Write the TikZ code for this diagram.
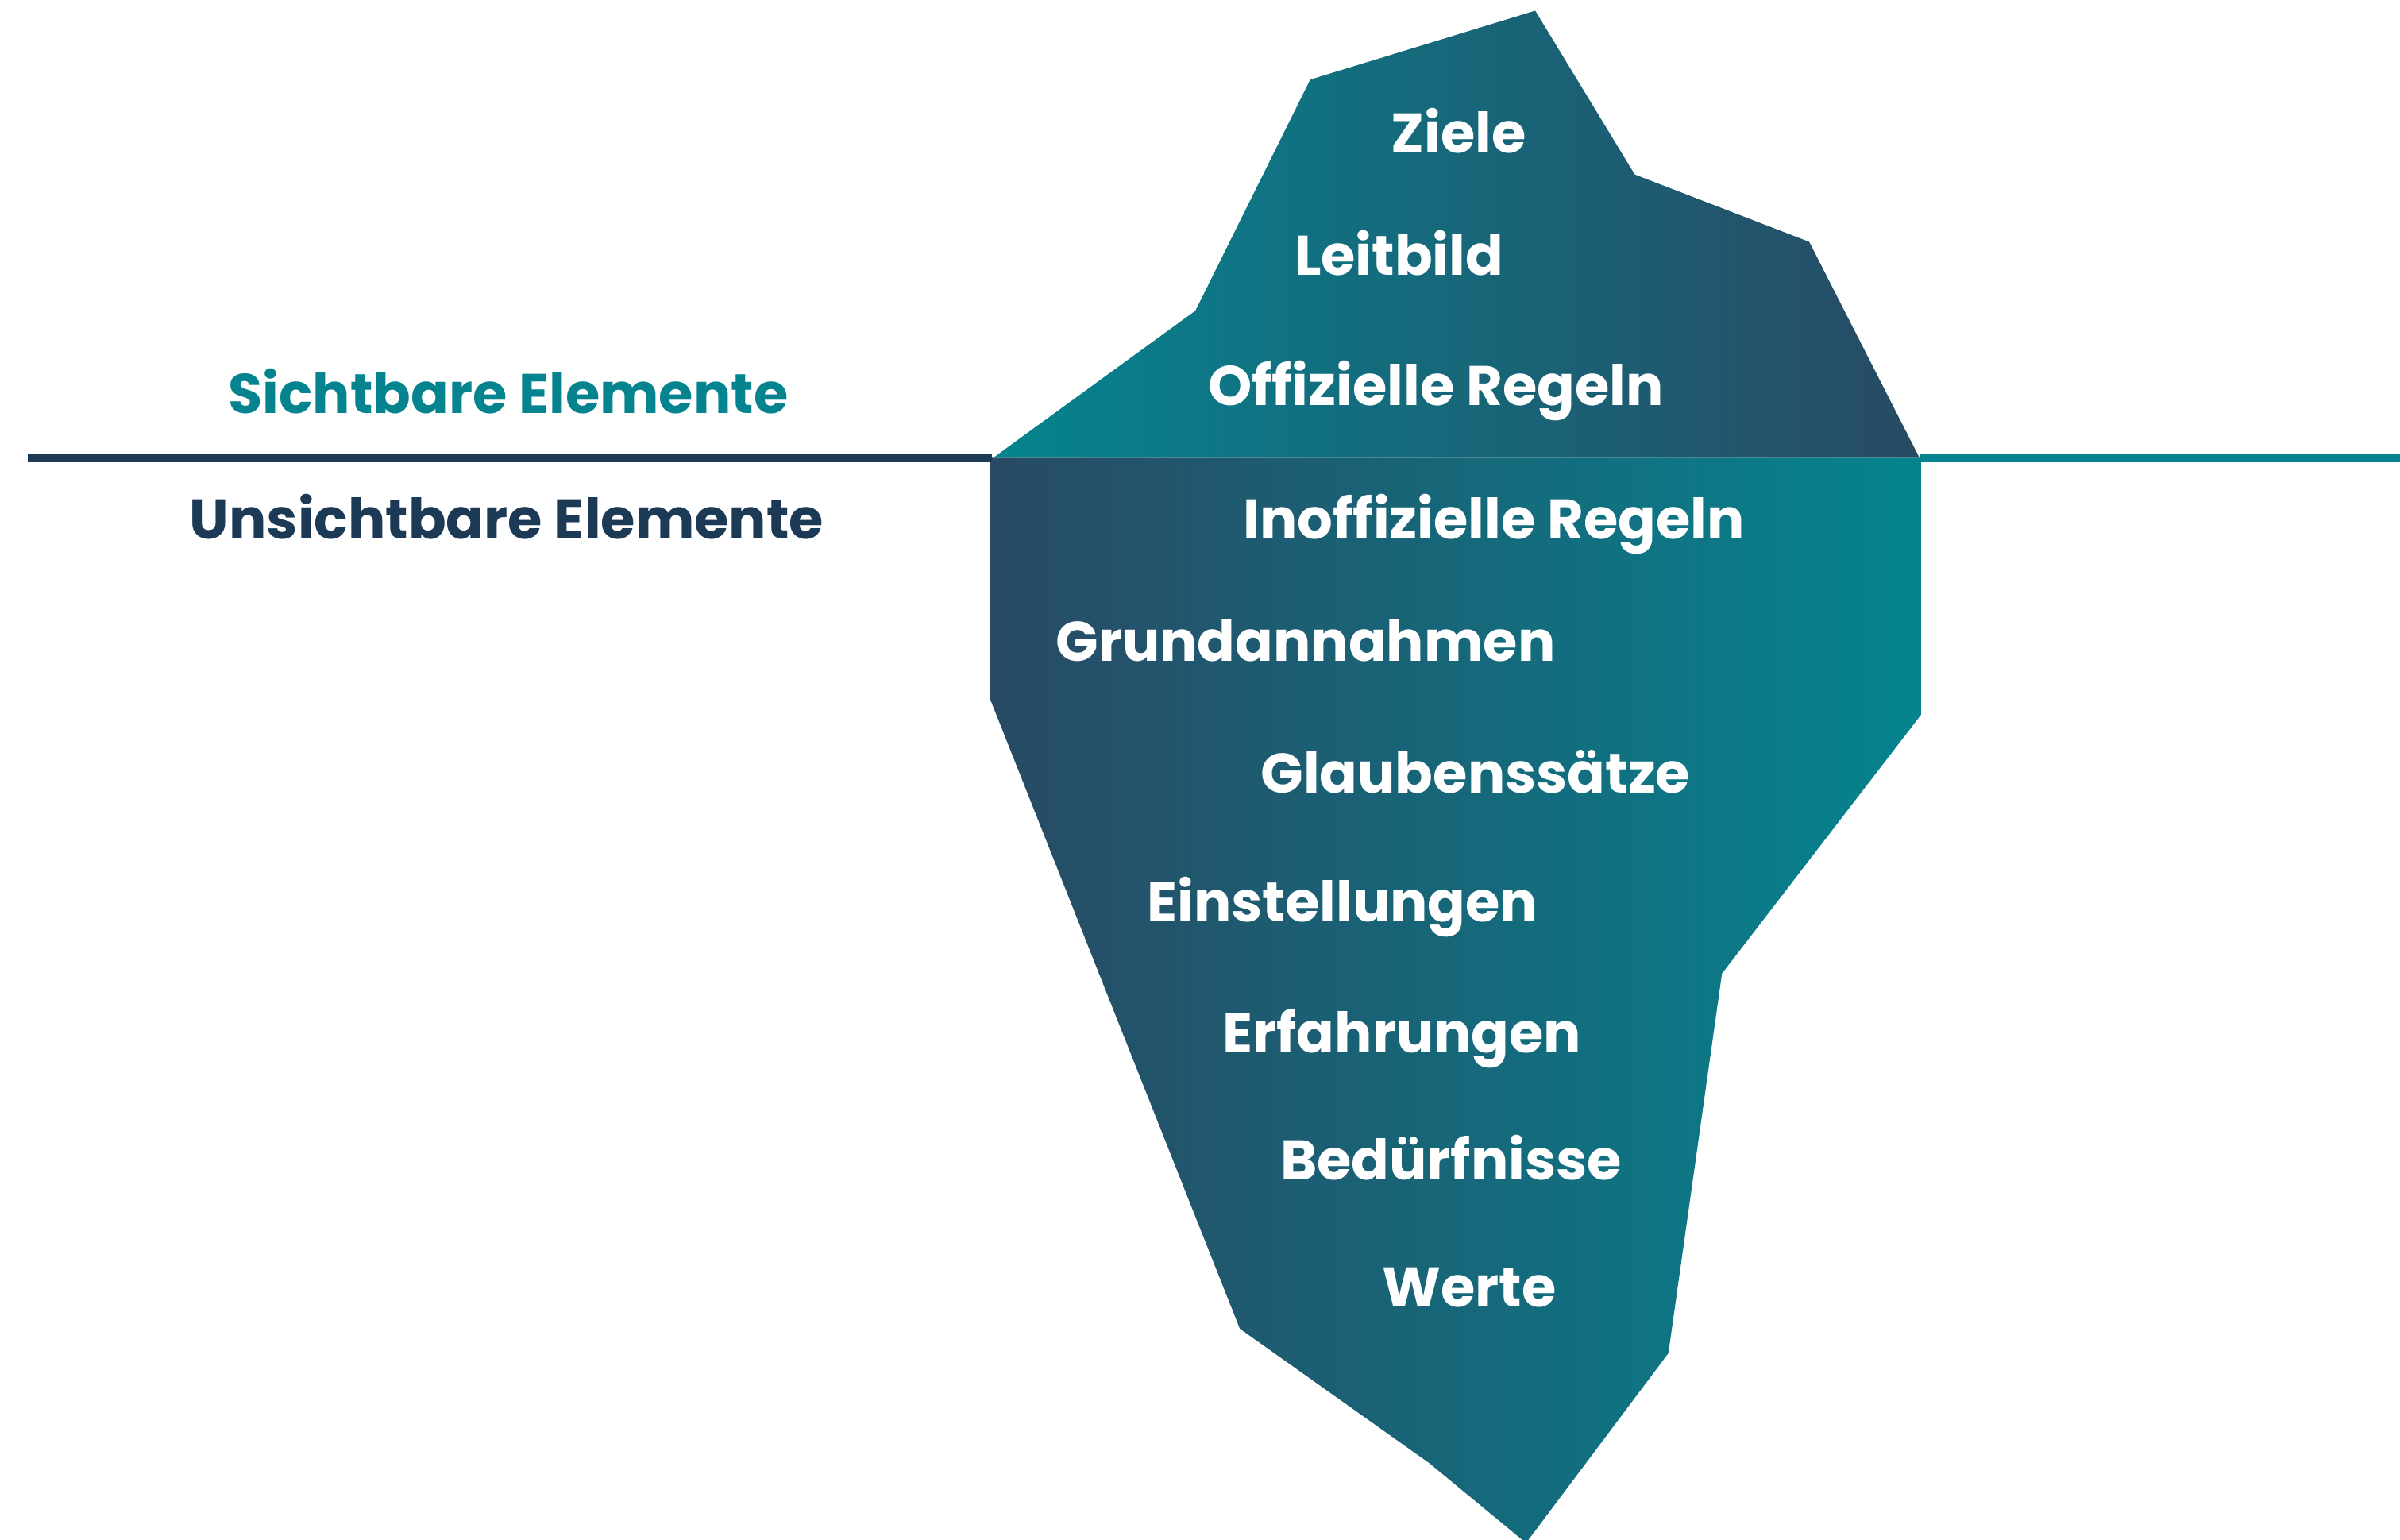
\documentclass[tikz,border=0pt]{standalone}
\usepackage{fontspec}
\setmainfont{Poppins}
\usetikzlibrary{positioning}
\definecolor{iceteal}{RGB}{5,132,143}
\definecolor{icenavy}{RGB}{40,74,100}
\definecolor{linenavy}{RGB}{28,58,85}

\begin{document}
\begin{tikzpicture}[
    x=0.019273cm, y=-0.019273cm,
    layer/.style={font=\fontsize{20}{23}\selectfont\bfseries, text=white, inner sep=0pt, anchor=base},
    side/.style={font=\fontsize{20}{23}\selectfont\bfseries, inner sep=0pt, anchor=base},
    water/.style={line width=3pt},
]
    \useasboundingbox (0,0) rectangle (1568,1006);

    % Body below the water
    \shade[left color=icenavy, right color=iceteal] (647,299) -- (1255,299) -- (1255,467) -- (1125,636)
        -- (1090,884) -- (997,1008) -- (934,956) -- (810,868) -- (647,457) -- cycle;

    % Tip above the water
    \shade[left color=iceteal, right color=icenavy] (649,299) -- (781,203) -- (856,52) -- (1003,7)
        -- (1068,114) -- (1182,158) -- (1254,299) -- cycle;

    % Waterline
    \coordinate (wleft) at (18,299);
    \coordinate (iceleft) at (648,299);
    \coordinate (iceright) at (1254,299);
    \coordinate (wright) at (1568,299);
    \draw[water, linenavy] (wleft) -- (iceleft);
    \draw[water, iceteal] (iceright) -- (wright);

    % Side labels
    \node[side, text=iceteal] (sichtbar) at (332,270) {Sichtbare Elemente};
    \node[side, text=linenavy] (unsichtbar) at (331,352) {Unsichtbare Elemente};

    % Visible layers
    \node[layer] (ziele) at (953,100) {Ziele};
    \node[layer] (leitbild) at (914,180) {Leitbild};
    \node[layer] (offiziell) at (938,265) {Offizielle Regeln};

    % Hidden layers
    \node[layer] (inoffiziell) at (976,352) {Inoffizielle Regeln};
    \node[layer] (annahmen) at (853,432) {Grundannahmen};
    \node[layer] (glauben) at (964,518) {Glaubenssätze};
    \node[layer] (einstellung) at (877,602) {Einstellungen};
    \node[layer] (erfahrung) at (916,688) {Erfahrungen};
    \node[layer] (bedarf) at (948,771) {Bedürfnisse};
    \node[layer] (werte) at (960,854) {Werte};
\end{tikzpicture}
\end{document}
